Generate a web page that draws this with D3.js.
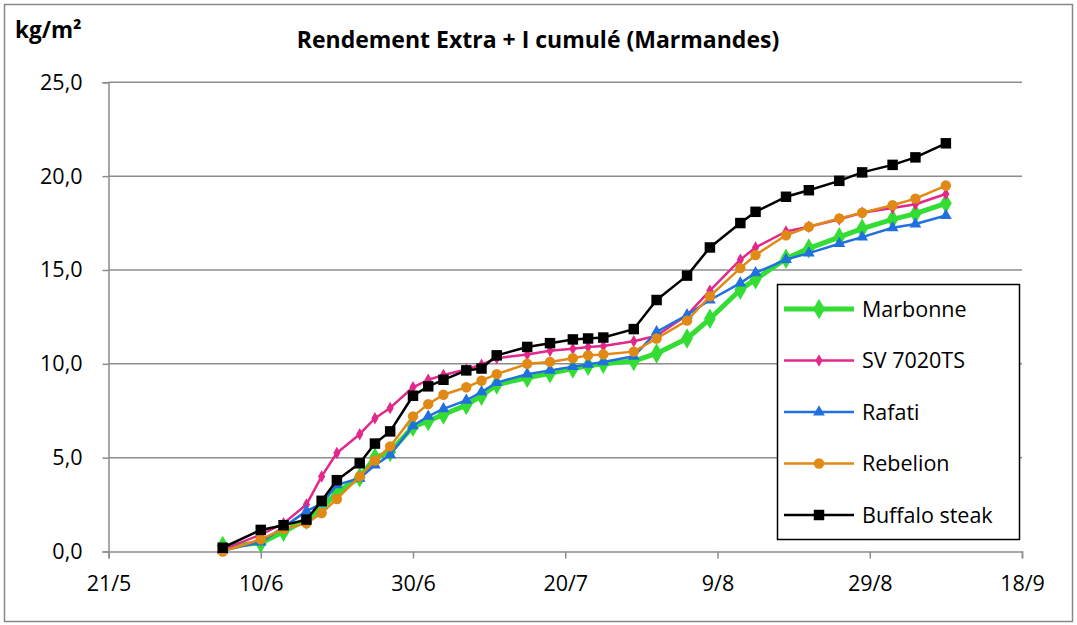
<!DOCTYPE html>
<html>
<head>
<meta charset="utf-8">
<script src="https://cdn.jsdelivr.net/npm/d3@7"></script>
<style>
  body { margin: 0; background: #fff; }
  text { font-family: "Open Sans", "Liberation Sans", sans-serif; }
</style>
</head>
<body>
<div id="chart"></div>
<script>
// dates de récolte (jour/mois, 2013)
var dates = ["5/6","10/6","13/6","16/6","18/6","20/6","23/6","25/6","27/6","30/6",
             "2/7","4/7","7/7","9/7","11/7","15/7","18/7","21/7","23/7","25/7",
             "29/7","1/8","5/8","8/8","12/8","14/8","18/8","21/8","25/8","28/8",
             "1/9","4/9","8/9"];

// rendements cumulés kg/m² par variété
var marbonne = [0.3,0.45,1.05,1.7,2.3,3.15,3.95,5.0,5.3,6.65,6.95,7.3,7.8,8.3,8.9,9.25,9.5,9.75,9.9,10.0,
                10.15,10.55,11.35,12.4,13.95,14.5,15.6,16.15,16.75,17.2,17.7,18.0,18.55];
var sv7020 = [0.1,0.9,1.5,2.5,4.0,5.25,6.25,7.1,7.65,8.75,9.15,9.4,9.7,9.95,10.3,10.5,10.7,10.8,10.9,10.95,
              11.2,11.5,12.6,13.9,15.55,16.2,17.05,17.3,17.7,18.05,18.3,18.5,19.05];
var rafati = [0.05,0.5,1.3,2.15,2.55,3.55,3.9,4.6,5.15,6.7,7.2,7.6,8.05,8.5,9.0,9.45,9.65,9.85,9.97,10.1,
              10.4,11.7,12.6,13.4,14.3,14.85,15.55,15.9,16.4,16.75,17.25,17.45,17.9];
var rebelion = [0.0,0.65,1.2,1.5,2.05,2.8,4.0,4.85,5.6,7.2,7.85,8.35,8.75,9.1,9.45,10.0,10.1,10.3,10.45,10.5,
                10.65,11.35,12.3,13.6,15.1,15.8,16.85,17.3,17.75,18.05,18.45,18.8,19.5];
var buffalo = [0.2,1.15,1.4,1.7,2.7,3.8,4.7,5.75,6.4,8.3,8.8,9.15,9.65,9.75,10.45,10.9,11.1,11.3,11.35,11.4,
               11.85,13.4,14.7,16.2,17.5,18.1,18.9,19.25,19.75,20.2,20.6,21.0,21.75];

var xTickLabels = ["21/5","10/6","30/6","20/7","9/8","29/8","18/9"];
var yTicks = [0, 5, 10, 15, 20, 25];

var parse = d3.timeParse("%d/%m/%Y");
var days = dates.map(function(s){ return parse(s + "/2013"); });
var xTicks = xTickLabels.map(function(s){ return parse(s + "/2013"); });

var series = [
  {name: "Marbonne",     values: marbonne, color: "#33dd33", width: 5,   symbol: d3.symbolDiamond,  size: 120},
  {name: "SV 7020TS",    values: sv7020,   color: "#e2288a", width: 2.5, symbol: d3.symbolDiamond,  size: 45},
  {name: "Rafati",       values: rafati,   color: "#2070e0", width: 2.5, symbol: d3.symbolTriangle, size: 60},
  {name: "Rebelion",     values: rebelion, color: "#e08a15", width: 2.5, symbol: d3.symbolCircle,   size: 85},
  {name: "Buffalo steak",values: buffalo,  color: "#000000", width: 2.5, symbol: d3.symbolSquare,   size: 110}
];

var svg = d3.select("#chart").append("svg")
    .attr("width", 1077)
    .attr("height", 625);

// cadre extérieur
svg.append("rect")
    .attr("x", 4.5).attr("y", 4.5)
    .attr("width", 1068).attr("height", 617)
    .attr("fill", "#fff").attr("stroke", "#888").attr("stroke-width", 1.5);

var x = d3.scaleTime()
    .domain([xTicks[0], xTicks[xTicks.length - 1]])
    .range([108.5, 1022]);

var y = d3.scaleLinear()
    .domain([0, 25])
    .range([551.5, 82.3]);

// quadrillage horizontal
svg.append("g").selectAll("line")
    .data(yTicks.slice(1))
    .enter().append("line")
    .attr("x1", x.range()[0]).attr("x2", x.range()[1])
    .attr("y1", function(d){ return y(d); })
    .attr("y2", function(d){ return y(d); })
    .attr("stroke", "#8c8c8c").attr("stroke-width", 1.5);

var fmt = function(d){ return d3.format(".1f")(d).replace(".", ","); };

var yAxis = svg.append("g")
    .attr("transform", "translate(" + x.range()[0] + ",0)")
    .call(d3.axisLeft(y).tickValues(yTicks).tickSize(6).tickPadding(20).tickFormat(fmt));

var xAxis = svg.append("g")
    .attr("transform", "translate(0," + y(0) + ")")
    .call(d3.axisBottom(x).tickValues(xTicks).tickSize(7).tickPadding(17)
          .tickFormat(function(d, i){ return xTickLabels[i]; }));

[yAxis, xAxis].forEach(function(a){
  a.select(".domain").attr("stroke", "#8c8c8c").attr("stroke-width", 1.5);
  a.selectAll(".tick line").attr("stroke", "#8c8c8c").attr("stroke-width", 1.5);
  a.selectAll(".tick text").attr("fill", "#000").style("font-size", "21.5px")
    .style("font-family", "'Open Sans', sans-serif");
});

// courbes
var line = d3.line()
    .x(function(d, i){ return x(days[i]); })
    .y(function(d){ return y(d); });

series.forEach(function(s){
  var g = svg.append("g");
  g.append("path")
    .datum(s.values)
    .attr("d", line)
    .attr("fill", "none")
    .attr("stroke", s.color)
    .attr("stroke-width", s.width)
    .attr("stroke-linejoin", "round");
  g.selectAll("path.pt")
    .data(s.values)
    .enter().append("path")
    .attr("class", "pt")
    .attr("d", d3.symbol().type(s.symbol).size(s.size))
    .attr("transform", function(d, i){ return "translate(" + x(days[i]) + "," + y(d) + ")"; })
    .attr("fill", s.color);
});

// titre et unité
svg.append("text")
    .attr("x", 538).attr("y", 48)
    .attr("text-anchor", "middle")
    .style("font-size", "23px").style("font-weight", "bold")
    .text("Rendement Extra + I cumulé (Marmandes)");

svg.append("text")
    .attr("x", 15).attr("y", 38)
    .style("font-size", "22.5px").style("font-weight", "bold")
    .text("kg/m²");

// légende
var legend = svg.append("g");
legend.append("rect")
    .attr("x", 777.5).attr("y", 284.5)
    .attr("width", 242).attr("height", 255)
    .attr("fill", "#fff").attr("stroke", "#000").attr("stroke-width", 1.5);

series.forEach(function(s, i){
  var ly = 309 + i * 51.5;
  var item = legend.append("g").attr("transform", "translate(0," + ly + ")");
  item.append("line")
    .attr("x1", 784).attr("x2", 854).attr("y1", 0).attr("y2", 0)
    .attr("stroke", s.color).attr("stroke-width", s.width);
  item.append("path")
    .attr("d", d3.symbol().type(s.symbol).size(s.size))
    .attr("transform", "translate(819,0)")
    .attr("fill", s.color);
  item.append("text")
    .attr("x", 862).attr("y", 0).attr("dy", "0.35em")
    .style("font-size", "21.5px")
    .text(s.name);
});
</script>
</body>
</html>
